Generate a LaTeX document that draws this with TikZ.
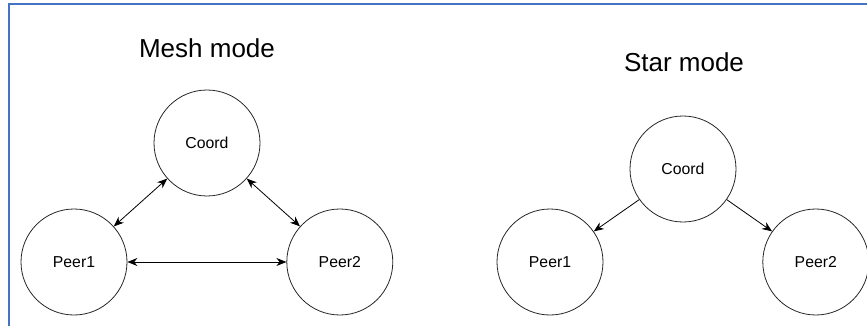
\documentclass[tikz,border=0pt]{standalone}
\usepackage{fontspec}
\setmainfont{Liberation Sans}
\usetikzlibrary{positioning,arrows.meta}
\definecolor{frameblue}{RGB}{68,114,196}

\begin{document}
\begin{tikzpicture}[x=1pt,y=-1pt,node distance=159pt,
  peer/.style={draw=black!85,circle,minimum size=106pt,inner sep=0pt,line width=0.8pt,
    font=\fontsize{15.8}{18}\selectfont},
  heading/.style={font=\fontsize{26}{30}\selectfont,anchor=base},
  link/.style={line width=0.8pt,-{Stealth[length=10pt,width=8pt]}},
  bilink/.style={line width=0.8pt,{Stealth[length=10pt,width=8pt]}-{Stealth[length=10pt,width=8pt]}}]
\useasboundingbox (0,0) rectangle (867,326);
\draw[frameblue,line width=2pt] (9,326) -- (9,4);
\draw[frameblue,line width=1.5pt] (8,4) -- (867,4);
% mesh mode
\node[heading] (meshT) at (207,58) {Mesh mode};
\node[peer] (mp1) at (74,262) {Peer1};
\node[peer,right=of mp1] (mp2) {Peer2};
\node[peer] (mc) at (207,143) {Coord};
\draw[bilink] (mc) -- (mp1); \draw[bilink] (mc) -- (mp2); \draw[bilink] (mp1) -- (mp2);
% star mode
\node[heading] (starT) at (684,72) {Star mode};
\node[peer] (sp1) at (550,262) {Peer1};
\node[peer,right=of sp1] (sp2) {Peer2};
\node[peer] (sc) at (683,169) {Coord};
\draw[link] (sc) -- (sp1); \draw[link] (sc) -- (sp2);
\end{tikzpicture}
\end{document}
